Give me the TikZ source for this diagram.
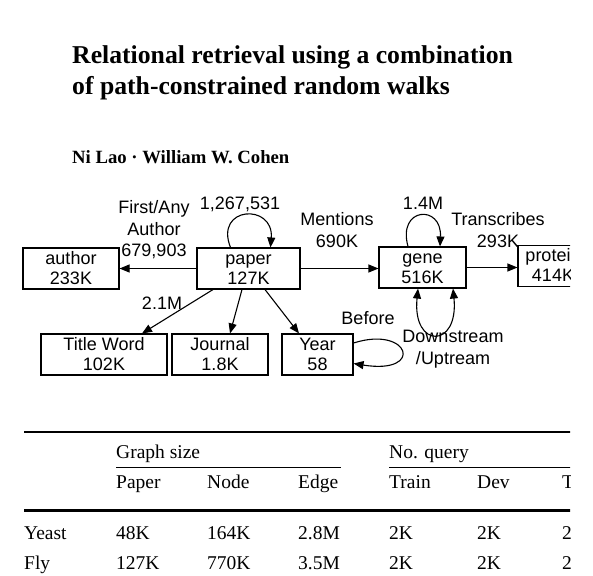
\documentclass[tikz,border=0pt]{standalone}
\usepackage{fontspec}
\setmainfont{Liberation Serif}
\newfontfamily\hv{Liberation Sans}
\usetikzlibrary{arrows.meta}
\newcommand\boxtxt[2]{\rule{0pt}{16pt}#1\\#2\rule[-5pt]{0pt}{5pt}}
\begin{document}
\begin{tikzpicture}[x=1pt,y=-1pt,
  box/.style={draw, line width=1.1pt, minimum height=41pt, inner sep=0pt, align=center, font=\hv\fontsize{18}{20}\selectfont},
  lbl/.style={align=center, inner sep=0pt, font=\hv\fontsize{18}{21.5}\selectfont},
  arr/.style={line width=1.1pt, -{Triangle[length=10pt,width=8pt]}},
  darr/.style={line width=1.1pt, {Triangle[length=10pt,width=8pt]}-{Triangle[length=10pt,width=8pt]}},
  tt/.style={anchor=base west, inner sep=0pt, font=\fontsize{19.5}{22}\selectfont},
  ttl/.style={anchor=base west, inner sep=0pt, font=\bfseries\fontsize{25.7}{31}\selectfont}]
\useasboundingbox (0,0) rectangle (593,575);
\fill[white] (0,0) rectangle (593,575);
\begin{scope}
\clip (0,0) rectangle (570,575);
% title
\node[ttl] (t1) at (72,64) {Relational retrieval using a combination};
\node[ttl] (t2) at (72,95) {of path-constrained random walks};
\node[anchor=base west, inner sep=0pt, font=\bfseries\fontsize{18.7}{22}\selectfont] (au) at (72,163) {Ni Lao {\textperiodcentered} William W. Cohen};
% boxes
\node[box, minimum width=96pt] (author) at (71,268.5) {\boxtxt{author}{233K}};
\node[box, minimum width=103pt] (paper) at (248.5,268.5) {\boxtxt{paper}{127K}};
\node[box, minimum width=87pt, minimum height=39pt] (gene) at (422.5,267.5) {\boxtxt{gene}{516K}};
\node[box, minimum width=70pt, minimum height=38pt] (protein) at (553,266) {\boxtxt{protein}{414K}};
\node[box, minimum width=126pt] (tw) at (104,354.5) {\boxtxt{Title Word}{102K}};
\node[box, minimum width=96pt] (journal) at (220,354.5) {\boxtxt{Journal}{1.8K}};
\node[box, minimum width=71pt] (year) at (317.5,354.5) {\boxtxt{Year}{58}};
% edges
\draw[arr] (paper.west) -- (author.east);
\draw[arr] (paper.east) -- (paper.east -| gene.west);
\draw[arr] (gene.east) -- (gene.east -| protein.west);
\draw[arr] ([xshift=-35.5pt]paper.south) -- ([xshift=38pt]tw.north);
\draw[arr] ([xshift=-6.5pt]paper.south) -- ([xshift=10pt]journal.north);
\draw[arr] ([xshift=16.5pt]paper.south) -- ([xshift=-18.5pt]year.north);
\draw[arr] ([xshift=-18pt]paper.north) .. controls (214,206) and (274,203) .. ([xshift=22pt]paper.north);
\draw[arr] ([xshift=-14.5pt]gene.north) .. controls (397,207) and (442,204) .. ([xshift=17.5pt]gene.north);
\draw[darr] ([xshift=-4.5pt]gene.south) .. controls (412,349) and (459,349) .. ([xshift=30.5pt]gene.south);
\draw[arr] ([yshift=11.5pt]year.east) .. controls (410,325) and (425,375) .. ([yshift=-9pt]year.east);
% labels
\node[lbl] (l1) at (154,230) {First/Any\\Author\\679,903};
\node[lbl] (l2) at (240,204) {1,267,531};
\node[lbl] (l3) at (162,303) {2.1M};
\node[lbl] (l4) at (337,230) {Mentions\\690K};
\node[lbl] (l5) at (423,203) {1.4M};
\node[lbl] (l6) at (498,230) {Transcribes\\293K};
\node[lbl] (l7) at (368,318) {Before};
\node[lbl] (l8) at (453,349) {Downstream\\/Uptream};
% table
\draw[line width=2pt] (24,431.5) -- (575,431.5);
\draw[line width=0.8pt] (116,467) -- (341,467);
\draw[line width=0.8pt] (389,467) -- (575,467);
\draw[line width=3pt] (24,510) -- (575,510);
\node[tt] (h1) at (116,458) {Graph size};
\node[tt] (h2) at (389,458) {No. query};
\node[tt] (c1) at (116,488) {Paper};
\node[tt] (c2) at (207,488) {Node};
\node[tt] (c3) at (298,488) {Edge};
\node[tt] (c4) at (389,488) {Train};
\node[tt] (c5) at (477,488) {Dev};
\node[tt] (c6) at (562,488) {Test};
\node[tt] (r1) at (24,539) {Yeast};
\node[tt] (r1a) at (116,539) {48K};
\node[tt] (r1b) at (207,539) {164K};
\node[tt] (r1c) at (298,539) {2.8M};
\node[tt] (r1d) at (389,539) {2K};
\node[tt] (r1e) at (477,539) {2K};
\node[tt] (r1f) at (562,539) {2K};
\node[tt] (r2) at (24,569) {Fly};
\node[tt] (r2a) at (116,569) {127K};
\node[tt] (r2b) at (207,569) {770K};
\node[tt] (r2c) at (298,569) {3.5M};
\node[tt] (r2d) at (389,569) {2K};
\node[tt] (r2e) at (477,569) {2K};
\node[tt] (r2f) at (562,569) {2K};
\end{scope}
\end{tikzpicture}
\end{document}
